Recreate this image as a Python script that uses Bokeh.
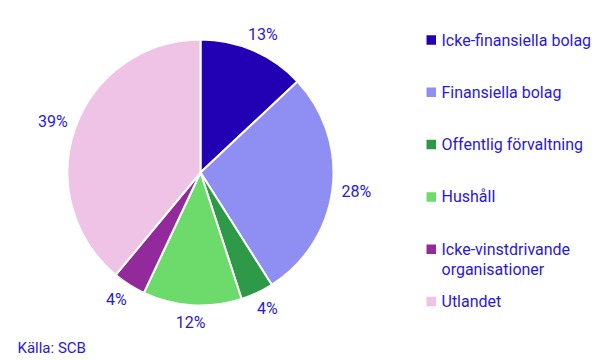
import math
from bokeh.plotting import figure
from bokeh.models import Range1d, ColumnDataSource
from bokeh.embed import file_html
from bokeh.resources import INLINE
from bokeh.core.properties import value

# ---- data ----
categories = ["Icke-finansiella bolag", "Finansiella bolag", "Offentlig förvaltning",
              "Hushåll", "Icke-vinstdrivande\norganisationer", "Utlandet"]
shares = [13, 28, 4, 12, 4, 39]
pct_labels = ["13%", "28%", "4%", "12%", "4%", "39%"]
colors = ["#2200b4", "#8f8ff3", "#2e9a47", "#6cdb6c", "#922a9b", "#eec3e6"]
source_note = "Källa: SCB"

# ---- layout ----
W, H = 605, 360
TXT = "#2a18d8"
FONT = "Roboto"
cx, cy, R = 200, 188, 133
label_rx, label_ry = 157, 150

p = figure(width=W, height=H, output_backend="svg", toolbar_location=None,
           x_range=Range1d(0, W), y_range=Range1d(0, H), min_border=0)
p.axis.visible = False
p.grid.visible = False
p.outline_line_color = None
p.background_fill_color = "white"
p.border_fill_color = "white"

total = float(sum(shares))
starts, ends, lx, ly = [], [], [], []
cum = 0.0
for s in shares:
    a0 = math.pi / 2 - 2 * math.pi * cum / total
    cum += s
    a1 = math.pi / 2 - 2 * math.pi * cum / total
    starts.append(a0)
    ends.append(a1)
    mid = (a0 + a1) / 2
    lx.append(cx + label_rx * math.cos(mid))
    ly.append(cy + label_ry * math.sin(mid))

src = ColumnDataSource(dict(start=starts, end=ends, color=colors, lx=lx, ly=ly, lab=pct_labels))
p.wedge(x=cx, y=cy, radius=R, start_angle="start", end_angle="end", direction="clock",
        fill_color="color", line_color="white", line_width=2, source=src)
p.text(x="lx", y="ly", text="lab", source=src, text_align="center", text_baseline="middle",
       text_font=value(FONT), text_font_size="16px", text_color=TXT)

# legend
leg_x, leg_y0, leg_dy, line_h = 430.75, 320.5, 52.3, 20
sq_x, sq_y, tx, ty, tt = [], [], [], [], []
for i, (cat, col) in enumerate(zip(categories, colors)):
    yc = leg_y0 - i * leg_dy
    sq_x.append(leg_x)
    sq_y.append(yc)
    for k, line in enumerate(cat.split("\n")):
        tx.append(leg_x + 10.25)
        ty.append(yc - k * line_h)
        tt.append(line)
p.rect(x=sq_x, y=sq_y, width=9.5, height=9.5, fill_color=colors, line_color=None)
p.text(x=tx, y=ty, text=tt, text_align="left", text_baseline="middle",
       text_font=value(FONT), text_font_size="16px", text_color=TXT)

p.text(x=[17], y=[13], text=[source_note], text_align="left", text_baseline="middle",
       text_font=value(FONT), text_font_size="15px", text_color=TXT)

open("out.html", "w").write(file_html(p, INLINE))
